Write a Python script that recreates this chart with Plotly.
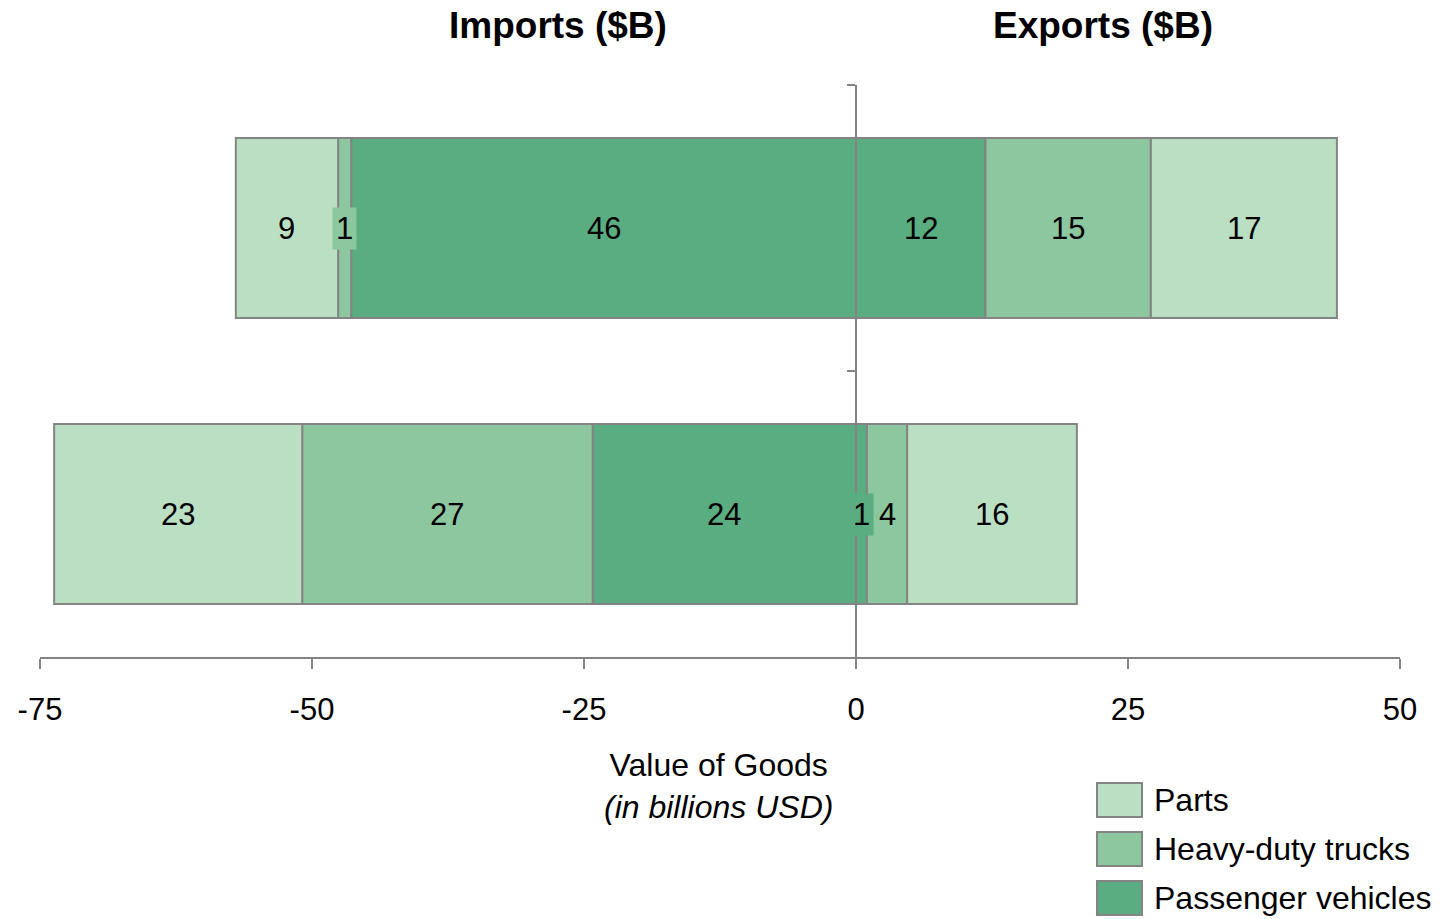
import plotly.graph_objects as go

# ---- data ----
rows = [1, 0]  # 1 = top bar, 0 = bottom bar
products = ["Passenger vehicles", "Heavy-duty trucks", "Parts"]  # stacking order from zero outward
imports = {
    "Passenger vehicles": [46.4, 24.2],
    "Heavy-duty trucks": [1.2, 26.7],
    "Parts": [9.4, 22.8],
}
exports = {
    "Passenger vehicles": [11.9, 1.0],
    "Heavy-duty trucks": [15.2, 3.7],
    "Parts": [17.1, 15.6],
}
colors = {
    "Parts": "#BBDFC3",
    "Heavy-duty trucks": "#8DC7A0",
    "Passenger vehicles": "#5AAD80",
}
legend_order = ["Parts", "Heavy-duty trucks", "Passenger vehicles"]
x_ticks = [-75, -50, -25, 0, 25, 50]

FONT = "Arial, Liberation Sans, sans-serif"
GREY = "#848484"
FS = 31
FS_BIG = 32

fig = go.Figure()
annotations = []

for direction, table, sign in (("Imports", imports, -1), ("Exports", exports, 1)):
    cum = [0.0 for _ in rows]
    for p in products:
        vals = table[p]
        fig.add_trace(go.Bar(
            y=rows, x=[sign * v for v in vals], orientation="h",
            name=p, marker=dict(color=colors[p], line=dict(color=GREY, width=2)),
            width=0.63, showlegend=False, hoverinfo="x+name",
        ))
        for i, v in enumerate(vals):
            center = sign * (cum[i] + v / 2)
            cum[i] += v
            small = v < 2
            annotations.append(dict(
                x=center, y=rows[i], xref="x", yref="y", text=str(int(v + 0.5)),
                showarrow=False, font=dict(size=FS, color="black", family=FONT),
                bgcolor=colors[p] if small else "rgba(0,0,0,0)", borderpad=3,
            ))

# dummy trace so the secondary (zero-crossing) y axis is drawn
fig.add_trace(go.Scatter(x=[None], y=[None], yaxis="y2", showlegend=False, hoverinfo="skip"))

x_min, x_max = -75, 50
zero_pos = (0 - x_min) / (x_max - x_min)

fig.update_layout(
    barmode="relative",
    width=1443, height=919,
    margin=dict(l=40, r=43, t=85, b=262),
    plot_bgcolor="white", paper_bgcolor="white",
    font=dict(family=FONT, size=FS, color="black"),
    xaxis=dict(
        range=[x_min, x_max], tickvals=x_ticks, ticktext=[str(t) for t in x_ticks],
        showline=True, linecolor=GREY, linewidth=2, ticks="outside", ticklen=10,
        tickwidth=2, tickcolor=GREY, showgrid=False, zeroline=False,
        tickfont=dict(size=FS, family=FONT, color="black"), ticklabelstandoff=14,
    ),
    yaxis=dict(range=[-0.5, 1.5], showticklabels=False, showgrid=False, zeroline=False,
               showline=False, ticks=""),
    yaxis2=dict(range=[-0.5, 1.5], overlaying="y", anchor="free", position=zero_pos,
                side="left", showline=True, linecolor=GREY, linewidth=2,
                ticks="outside", ticklen=8, tickwidth=2, tickcolor=GREY,
                tickvals=[0.5, 1.5], showticklabels=False, showgrid=False, zeroline=False),
)

plot_h = 919 - 85 - 262
plot_w = 1443 - 40 - 43


def px(xp):
    return (xp - 40) / plot_w


def py(yp):
    return (657 - yp) / plot_h


# titles
for text, cx in (("<b>Imports ($B)</b>", 558), ("<b>Exports ($B)</b>", 1103)):
    annotations.append(dict(x=px(cx), y=py(25), xref="paper", yref="paper", text=text,
                            xanchor="center", yanchor="middle", showarrow=False,
                            font=dict(size=37, family=FONT, color="black")))
# axis title
annotations.append(dict(x=px(718), y=py(786), xref="paper", yref="paper",
                        xanchor="center", yanchor="middle",
                        text="Value of Goods<br><i>(in billions USD)</i>",
                        showarrow=False, font=dict(size=FS_BIG, family=FONT, color="black")))

# manual legend
shapes = []
for k, p in enumerate(legend_order):
    cy = 800 + 49 * k
    shapes.append(dict(type="rect", xref="paper", yref="paper",
                       x0=px(1097), x1=px(1142), y0=py(cy + 17), y1=py(cy - 17),
                       fillcolor=colors[p], line=dict(color=GREY, width=2)))
    annotations.append(dict(x=px(1152), y=py(cy), xref="paper", yref="paper",
                            xanchor="left", yanchor="middle", text=p, showarrow=False,
                            font=dict(size=FS_BIG, family=FONT, color="black")))

fig.update_layout(annotations=annotations, shapes=shapes)
fig.write_html("out.html")
